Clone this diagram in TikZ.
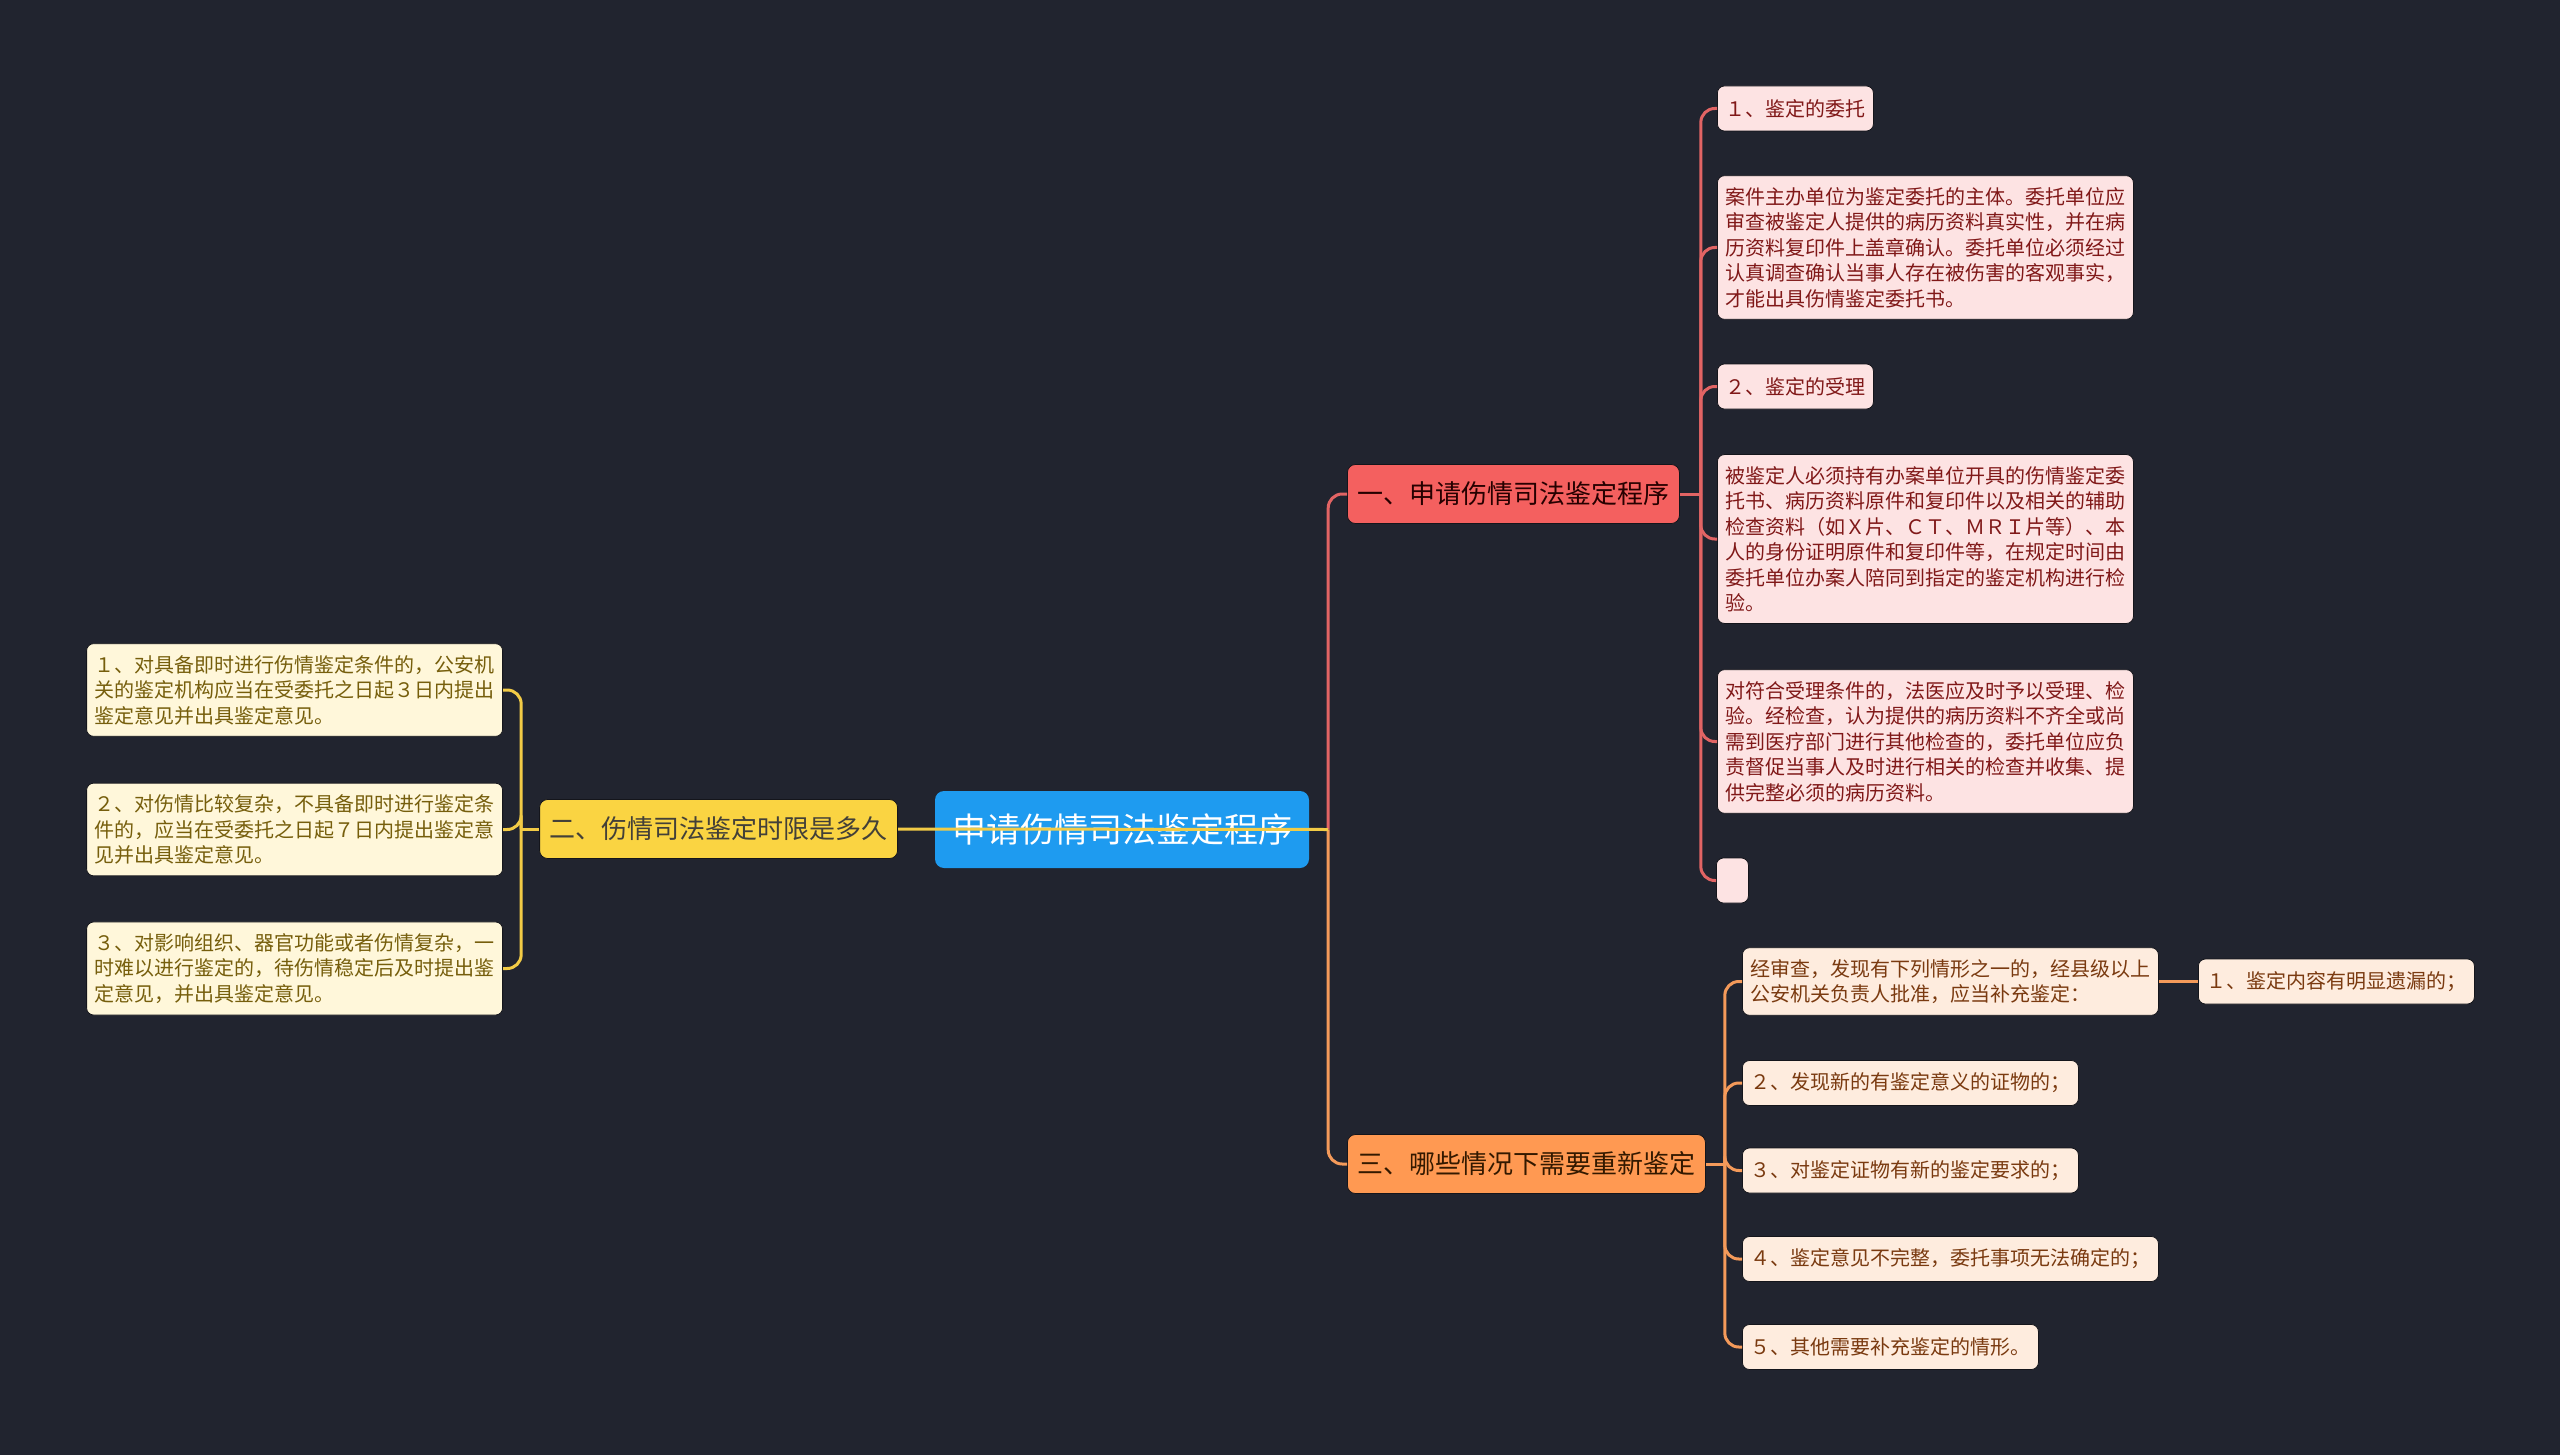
\documentclass[tikz,border=0pt]{standalone}
\usepackage{fontspec}
\setmainfont{Noto Sans CJK SC}
\definecolor{mapBg}{RGB}{33,36,47}
\definecolor{rootBlue}{RGB}{30,155,240}
\definecolor{edgeDark}{RGB}{20,21,27}
\definecolor{redMain}{RGB}{244,96,95}
\definecolor{redLine}{RGB}{226,100,100}
\definecolor{redLeaf}{RGB}{253,227,227}
\definecolor{redText}{RGB}{128,24,24}
\definecolor{ylwMain}{RGB}{250,212,66}
\definecolor{ylwLine}{RGB}{242,203,70}
\definecolor{ylwLeaf}{RGB}{255,247,218}
\definecolor{ylwText}{RGB}{118,94,12}
\definecolor{orgMain}{RGB}{255,153,82}
\definecolor{orgLine}{RGB}{244,154,90}
\definecolor{orgLeaf}{RGB}{254,236,222}
\definecolor{orgText}{RGB}{122,58,16}

\begin{document}
\begin{tikzpicture}[
  x=1pt, y=-1pt,
  root/.style={rounded corners=9pt, fill=rootBlue, text=white, font=\fontsize{34}{40}\selectfont, minimum width=374pt, minimum height=77pt, inner sep=0pt},
  topic/.style={rounded corners=8pt, draw=edgeDark, line width=0.8pt, inner xsep=10pt, minimum height=59pt, font=\fontsize{26}{30}\selectfont},
  leaf/.style={rounded corners=7pt, draw=edgeDark, line width=0.8pt, inner xsep=8pt, inner ysep=11.5pt, minimum height=45pt, align=left, font=\fontsize{20}{25.5}\selectfont},
  redleaf/.style={leaf, fill=redLeaf, text=redText},
  ylwleaf/.style={leaf, fill=ylwLeaf, text=ylwText},
  orgleaf/.style={leaf, fill=orgLeaf, text=orgText},
  twig/.style={line width=3pt, rounded corners=14pt},
]

\fill[mapBg] (0,0) rectangle (2560,1455);
\useasboundingbox (0,0) rectangle (2560,1455);

% ======================= centre and the three topics =======================
\node[root] (root) at (1122,829.5) {申请伤情司法鉴定程序};
\node[topic, fill=redMain, text=black!85!red, anchor=west] (n1) at (1347,494) {一、申请伤情司法鉴定程序};
\node[topic, fill=ylwMain, text=black!85!yellow, anchor=east] (n2) at (898,829) {二、伤情司法鉴定时限是多久};
\node[topic, fill=orgMain, text=black!80!orange, anchor=west] (n3) at (1347,1164) {三、哪些情况下需要重新鉴定};

% ======================= topic 1: red leaves =======================
\node[redleaf, anchor=west] (r1) at (1717,108.5) {１、鉴定的委托};
\node[redleaf, anchor=west] (r2) at (1717,247.5) {案件主办单位为鉴定委托的主体。委托单位应\\审查被鉴定人提供的病历资料真实性，并在病\\历资料复印件上盖章确认。委托单位必须经过\\认真调查确认当事人存在被伤害的客观事实，\\才能出具伤情鉴定委托书。};
\node[redleaf, anchor=west] (r3) at (1717,386.5) {２、鉴定的受理};
\node[redleaf, anchor=west] (r4) at (1717,539) {被鉴定人必须持有办案单位开具的伤情鉴定委\\托书、病历资料原件和复印件以及相关的辅助\\检查资料（如Ｘ片、ＣＴ、ＭＲＩ片等）、本\\人的身份证明原件和复印件等，在规定时间由\\委托单位办案人陪同到指定的鉴定机构进行检\\验。};
\node[redleaf, anchor=west] (r5) at (1717,741.5) {对符合受理条件的，法医应及时予以受理、检\\验。经检查，认为提供的病历资料不齐全或尚\\需到医疗部门进行其他检查的，委托单位应负\\责督促当事人及时进行相关的检查并收集、提\\供完整必须的病历资料。};
\node[redleaf, anchor=west, minimum width=32pt, inner xsep=0pt] (r6) at (1716,880.5) {};

% ======================= topic 2: yellow leaves =======================
\node[ylwleaf, anchor=east] (y1) at (503,690) {１、对具备即时进行伤情鉴定条件的，公安机\\关的鉴定机构应当在受委托之日起３日内提出\\鉴定意见并出具鉴定意见。};
\node[ylwleaf, anchor=east] (y2) at (503,829.5) {２、对伤情比较复杂，不具备即时进行鉴定条\\件的，应当在受委托之日起７日内提出鉴定意\\见并出具鉴定意见。};
\node[ylwleaf, anchor=east] (y3) at (503,968.5) {３、对影响组织、器官功能或者伤情复杂，一\\时难以进行鉴定的，待伤情稳定后及时提出鉴\\定意见，并出具鉴定意见。};

% ======================= topic 3: orange leaves =======================
\node[orgleaf, anchor=west] (o1) at (1742,981.5) {经审查，发现有下列情形之一的，经县级以上\\公安机关负责人批准，应当补充鉴定：};
\node[orgleaf, anchor=west] (o1a) at (2198,981.5) {１、鉴定内容有明显遗漏的；};
\node[orgleaf, anchor=west] (o2) at (1742,1083) {２、发现新的有鉴定意义的证物的；};
\node[orgleaf, anchor=west] (o3) at (1742,1170.5) {３、对鉴定证物有新的鉴定要求的；};
\node[orgleaf, anchor=west] (o4) at (1742,1259) {４、鉴定意见不完整，委托事项无法确定的；};
\node[orgleaf, anchor=west] (o5) at (1742,1347) {５、其他需要补充鉴定的情形。};

% ======================= connectors =======================
\coordinate (hub) at ([xshift=19pt]root.east);
\draw[twig, redLine] (hub) |- (n1.west);
\draw[twig, orgLine] (hub) |- (n3.west);
\draw[twig, ylwLine] (hub) -- (n2.east);

\draw[twig, redLine] (n1.east) -- ++(21,0) coordinate (redSpine);
\foreach \k in {r1,r2,r3,r4,r5,r6}
  \draw[twig, redLine] (redSpine) |- (\k.west);

\draw[twig, ylwLine] (n2.west) -- ++(-18,0) coordinate (ylwSpine);
\foreach \k in {y1,y2,y3}
  \draw[twig, ylwLine] (ylwSpine) |- (\k.east);

\draw[twig, orgLine] (n3.east) -- ++(19,0) coordinate (orgSpine);
\foreach \k in {o1,o2,o3,o4,o5}
  \draw[twig, orgLine] (orgSpine) |- (\k.west);
\draw[twig, orgLine] (o1.east) -- (o1a.west);

\end{tikzpicture}
\end{document}
